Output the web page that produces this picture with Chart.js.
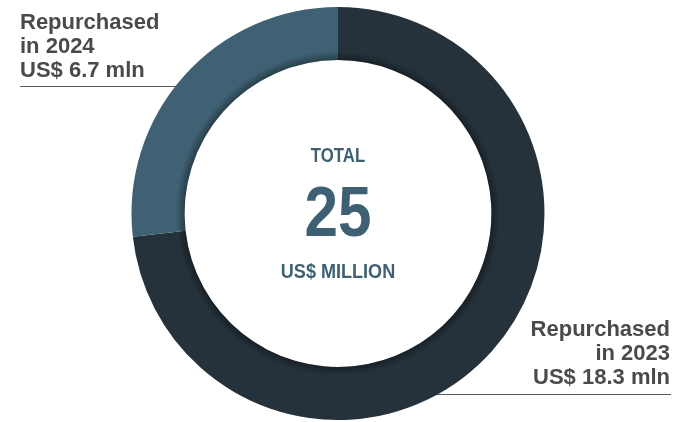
<!DOCTYPE html>
<html>
<head>
<meta charset="utf-8">
<script src="https://cdn.jsdelivr.net/npm/chart.js@4.4.1/dist/chart.umd.min.js"></script>
<style>
  html, body { margin: 0; padding: 0; background: #fff; }
  #wrap { position: relative; width: 674px; height: 422px; overflow: hidden; }
  #chart { position: absolute; left: 0; top: 0; z-index: 1; }
  .rule { position: absolute; height: 1px; background: #5a5a5a; z-index: 0; }
  .lbl {
    position: absolute; z-index: 2;
    font-family: "Liberation Sans", Arial, sans-serif;
    font-weight: bold; font-size: 22px; line-height: 24px;
    color: #4a4a4a; white-space: nowrap;
  }
  .center {
    position: absolute; z-index: 2; left: 238px; width: 200px; text-align: center;
    font-family: "Liberation Sans", Arial, sans-serif; font-weight: bold;
    color: #3d6073; transform: scaleX(0.86); transform-origin: 100px 0;
    white-space: nowrap;
  }
</style>
</head>
<body>
<div id="wrap">
  <div class="rule" style="left:20px; top:86px; width:190px;"></div>
  <div class="rule" style="left:420px; top:394px; width:251px;"></div>
  <canvas id="chart" width="674" height="422"></canvas>
  <div class="lbl" id="lbl2024" style="left:20px; top:10px;"></div>
  <div class="lbl" id="lbl2023" style="right:4px; top:317px; text-align:right;"></div>
  <div class="center" id="cTop" style="top:144px; font-size:19.5px; line-height:22px;"></div>
  <div class="center" id="cNum" style="top:174px; font-size:70px; line-height:76px;"></div>
  <div class="center" id="cUnit" style="top:259px; font-size:21px; line-height:24px;"></div>
</div>
<script>
// data
const years = ['2023', '2024'];
const amounts = [18.3, 6.7];            // US$ mln repurchased
const colors = ['#26323b', '#3f6173'];
const totalLabel = 'TOTAL';
const totalValue = '25';
const totalUnit = 'US$ MILLION';

function fillLabel(id, i) {
  document.getElementById(id).innerHTML =
    'Repurchased<br>in ' + years[i] + '<br>US$ ' + amounts[i] + ' mln';
}
fillLabel('lbl2023', 0);
fillLabel('lbl2024', 1);
document.getElementById('cTop').textContent = totalLabel;
document.getElementById('cNum').textContent = totalValue;
document.getElementById('cUnit').textContent = totalUnit;

/** soft shadow just inside the hole edge */
const innerShade = {
  id: 'innerShade',
  afterDatasetsDraw(chart) {
    const arc = chart.getDatasetMeta(0).data[0];
    if (!arc) return;
    const { x, y, innerRadius } = arc.getProps(['x', 'y', 'innerRadius'], true);
    const ctx = chart.ctx;
    const w = 9;
    const g = ctx.createRadialGradient(x, y, innerRadius, x, y, innerRadius + w);
    g.addColorStop(0, 'rgba(0,0,0,0.35)');
    g.addColorStop(1, 'rgba(0,0,0,0)');
    ctx.save();
    ctx.beginPath();
    ctx.arc(x, y, innerRadius + w, 0, Math.PI * 2);
    ctx.arc(x, y, innerRadius, 0, Math.PI * 2, true);
    ctx.fillStyle = g;
    ctx.fill();
    ctx.restore();
  },
};

new Chart(document.getElementById('chart'), {
  type: 'doughnut',
  data: {
    labels: years,
    datasets: [{
      data: amounts,
      backgroundColor: colors,
      borderWidth: 0,
    }],
  },
  options: {
    responsive: false,
    animation: false,
    cutout: '74.3%',
    layout: { padding: { top: 7, bottom: 2, left: 2, right: 0 } },
    plugins: {
      legend: { display: false },
      tooltip: { enabled: false },
    },
  },
  plugins: [innerShade],
});
</script>
</body>
</html>
